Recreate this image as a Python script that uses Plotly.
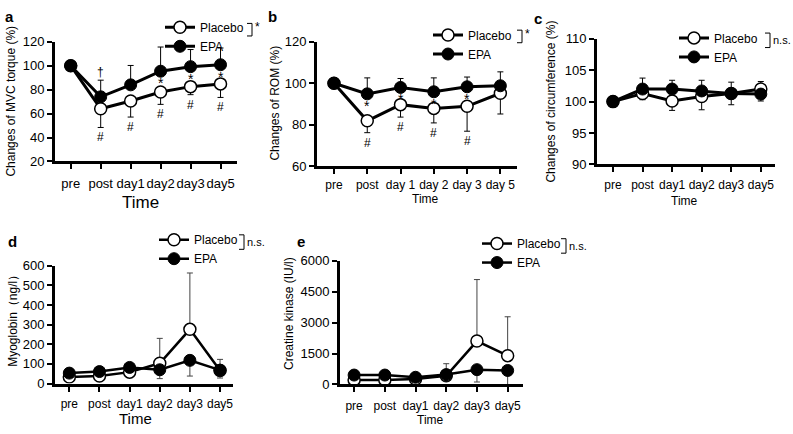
import plotly.graph_objects as go

# five panels: MVC torque, ROM, circumference, myoglobin, creatine kinase
W, H = 793, 434

times = ['pre', 'post', 'day1', 'day2', 'day3', 'day5']
times_rom = ['pre', 'post', 'day 1', 'day 2', 'day 3', 'day 5']

# a: MVC torque (%)
mvc_placebo = [100, 64, 70.5, 78, 82.5, 84.8]
mvc_placebo_sd = [0, 15.6, 13.4, 10.3, 6.7, 11.3]
mvc_epa = [100, 74, 84, 95.4, 99.2, 100.8]
mvc_epa_sd = [0, 13.9, 16.2, 20.2, 14.3, 14.0]
mvc_hash = ['post', 'day1', 'day2', 'day3', 'day5']
mvc_star = ['day2', 'day3', 'day5']
mvc_dagger = ['post']

# b: ROM (%)
rom_placebo = [100, 81.9, 89.7, 87.9, 88.9, 95.2]
rom_placebo_sd = [0, 5.7, 6.0, 7.0, 12.0, 10.0]
rom_epa = [100, 94.9, 98.0, 95.9, 98.3, 98.8]
rom_epa_sd = [0, 7.7, 4.3, 6.7, 4.7, 6.7]
rom_hash = ['post', 'day 1', 'day 2', 'day 3']
rom_star = ['post', 'day 1', 'day 2', 'day 3']

# c: circumference (%)
circ_placebo = [100, 101.3, 100.1, 100.8, 101.3, 102.0]
circ_placebo_up = [0, 0, 0, 0, 0, 1.2]
circ_placebo_down = [0, 1.0, 1.5, 2.1, 1.8, 0]
circ_epa = [100, 102.0, 102.0, 101.7, 101.3, 101.2]
circ_epa_up = [0, 1.75, 1.4, 1.7, 1.8, 0]
circ_epa_down = [0, 0, 0, 0, 0, 1.1]

# d: myoglobin (ng/l)
mb_placebo = [33, 38, 58, 103, 276, 66]
mb_placebo_sd = [10, 12, 20, 127, 287, 57]
mb_epa = [53, 61, 82, 70, 118, 68]
mb_epa_sd = [15, 15, 25, 45, 80, 40]

# e: creatine kinase (IU/l)
ck_placebo = [222, 222, 270, 425, 2108, 1400]
ck_placebo_sd = [80, 90, 100, 584, 2986, 1888]
ck_epa = [458, 458, 350, 480, 720, 680]
ck_epa_sd = [150, 150, 120, 300, 600, 680]


def px_x(px):
    return px / W


def px_y(py):
    return 1 - py / H


FONT = 'Liberation Sans'
NARROW = 'Liberation Sans Narrow, Liberation Sans'
zeros = [0] * 6

fig = go.Figure()


def add_pair(xs, plac, plac_up, plac_down, epa, epa_up, epa_down, ax, leg, err_col, err_w, lw):
    xa, ya = ('x', 'y') if ax == 1 else (f'x{ax}', f'y{ax}')
    fig.add_trace(go.Scatter(
        x=xs, y=plac, name='Placebo', mode='lines+markers', xaxis=xa, yaxis=ya, legend=leg,
        line=dict(color='black', width=lw),
        marker=dict(symbol='circle', size=12, color='white', line=dict(color='black', width=1.5)),
        error_y=dict(type='data', symmetric=False, array=plac_up, arrayminus=plac_down,
                     color=err_col, thickness=err_w, width=3),
    ))
    fig.add_trace(go.Scatter(
        x=xs, y=epa, name='EPA', mode='lines+markers', xaxis=xa, yaxis=ya, legend=leg,
        line=dict(color='black', width=lw),
        marker=dict(symbol='circle', size=12, color='black', line=dict(color='black', width=1)),
        error_y=dict(type='data', symmetric=False, array=epa_up, arrayminus=epa_down,
                     color=err_col, thickness=err_w, width=3),
    ))


add_pair(times, mvc_placebo, zeros, mvc_placebo_sd, mvc_epa, mvc_epa_sd, zeros, 1, 'legend', 'black', 1, 3)
add_pair(times_rom, rom_placebo, zeros, rom_placebo_sd, rom_epa, rom_epa_sd, zeros, 2, 'legend2', 'black', 1, 3)
add_pair(times, circ_placebo, circ_placebo_up, circ_placebo_down, circ_epa, circ_epa_up, circ_epa_down,
         3, 'legend3', 'black', 1, 3)
add_pair(times, mb_placebo, mb_placebo_sd, zeros, mb_epa, zeros, mb_epa_sd, 4, 'legend4', '#444', 1, 2.5)
add_pair(times, ck_placebo, ck_placebo_sd, zeros, ck_epa, zeros, ck_epa_sd, 5, 'legend5', '#444', 1, 2.5)

# axis boxes in pixels: (left, right, top, bottom), x range in category units, y range, dtick
panels = {
    1: dict(box=(55, 237, 36, 160), xr=[-0.525, 5.55], yr=[20, 120], dt=20, fs=13, so=3),
    2: dict(box=(317, 517, 36, 165), xr=[-0.51, 5.5], yr=[60, 120], dt=20, fs=12, so=0),
    3: dict(box=(597, 775, 33, 163), xr=[-0.54, 5.48], yr=[90, 110], dt=5, fs=12, so=2),
    4: dict(box=(55, 233, 268, 390), xr=[-0.475, 5.43], yr=[0, 600], dt=100, fs=12, so=2),
    5: dict(box=(340, 523, 263, 391), xr=[-0.46, 5.5], yr=[0, 6000], dt=1500, fs=12, so=3),
}

lay = {}
for i, p in panels.items():
    l, r, t, b = p['box']
    sx = '' if i == 1 else str(i)
    common = dict(showgrid=False, zeroline=False, showline=True, linecolor='black', linewidth=3,
                  ticks='outside', ticklen=5, tickwidth=2, tickcolor='black', fixedrange=True)
    lay[f'xaxis{sx}'] = dict(common, domain=[px_x(l), px_x(r)], range=p['xr'], type='category',
                             anchor=f'y{sx}', ticklabelstandoff=p['so'], tickangle=0,
                             tickfont=dict(family=NARROW, size=p['fs'], color='black'))
    lay[f'yaxis{sx}'] = dict(common, domain=[px_y(b), px_y(t)], range=p['yr'], dtick=p['dt'],
                             anchor=f'x{sx}', tickfont=dict(family=FONT, size=13, color='black'))
fig.update_layout(**lay)

# legends
leg_pos = {'legend': (160, 6), 'legend2': (428, 14), 'legend3': (674, 17),
           'legend4': (154, 226), 'legend5': (477, 230)}
for k, (lx, ly) in leg_pos.items():
    fig.update_layout({k: dict(x=px_x(lx), y=px_y(ly), xanchor='left', yanchor='top',
                               bgcolor='rgba(0,0,0,0)', tracegroupgap=0, itemwidth=30,
                               font=dict(family=FONT, size=12, color='black'))})

ann = []


def text(x, y, s, size=12, angle=0, bold=False, xanchor='center', family=FONT):
    ann.append(dict(x=px_x(x), y=px_y(y), xref='paper', yref='paper', text=f'<b>{s}</b>' if bold else s,
                    showarrow=False, textangle=angle, xanchor=xanchor, yanchor='middle',
                    font=dict(family=family, size=size, color='black')))


# panel letters
for s, x, y in [('a', 9, 10), ('b', 272, 10), ('c', 538, 12), ('d', 12, 243), ('e', 301, 243)]:
    text(x, y, s, size=15, bold=True)

# axis titles
text(11, 98, 'Changes of MVC torque (%)', 12, -90)
text(275, 100, 'Changes of ROM (%)', 12, -90)
text(551, 98, 'Changes of circumference (%)', 12, -90)
text(13, 322, 'Myoglobin（ng/l）', 12, -90)
text(289, 318, 'Creatine kinase (IU/l)', 12, -90)
text(140, 203, 'Time', 17, family=NARROW)
text(425, 199, 'Time', 12, family=NARROW)
text(684, 201, 'Time', 12, family=NARROW)
text(135, 426, 'Time', 15, family=NARROW)
text(430, 428, 'Time', 12, family=NARROW)

# group-difference brackets
brackets = [(252, 17, 30, '*'), (522, 24, 37, '*'), (770, 27, 42, 'n.s.'),
            (244, 236, 251, 'n.s.'), (566, 240, 255, 'n.s.')]
shapes = []
for bx, y0, y1, s in brackets:
    shapes.append(dict(type='path', xref='paper', yref='paper', line=dict(color='black', width=1),
                       path=f'M {px_x(bx - 5)} {px_y(y0)} L {px_x(bx)} {px_y(y0)} '
                            f'L {px_x(bx)} {px_y(y1)} L {px_x(bx - 5)} {px_y(y1)}'))
    text(bx + 1, (y0 + y1) / 2 - (3 if s == '*' else 0), s, 12 if s == '*' else 11, xanchor='left')


# significance marks
def mark(ax, xs, cats, vals, offs, s, shift, size=12):
    for c in cats:
        i = xs.index(c)
        ann.append(dict(x=c, y=vals[i] + offs[i], xref=ax[0], yref=ax[1], text=s, showarrow=False,
                        yshift=shift, font=dict(family=FONT, size=size, color='black')))


neg = lambda v: [-a for a in v]
mark(('x', 'y'), times, mvc_hash, mvc_placebo, neg(mvc_placebo_sd), '#', -10)
mark(('x', 'y'), times, mvc_star, mvc_epa, zeros, '*', -12, 14)
mark(('x', 'y'), times, mvc_dagger, mvc_epa, mvc_epa_sd, '†', 8)
mark(('x2', 'y2'), times_rom, rom_hash, rom_placebo, neg(rom_placebo_sd), '#', -10)
mark(('x2', 'y2'), times_rom, rom_star, rom_epa, zeros, '*', -12, 14)

fig.update_layout(annotations=ann, shapes=shapes, width=W, height=H,
                  margin=dict(l=0, r=0, t=0, b=0), paper_bgcolor='white', plot_bgcolor='white',
                  showlegend=True)

fig.write_html('out.html', config={'displayModeBar': False},
               post_script="document.body.style.margin='0';")
